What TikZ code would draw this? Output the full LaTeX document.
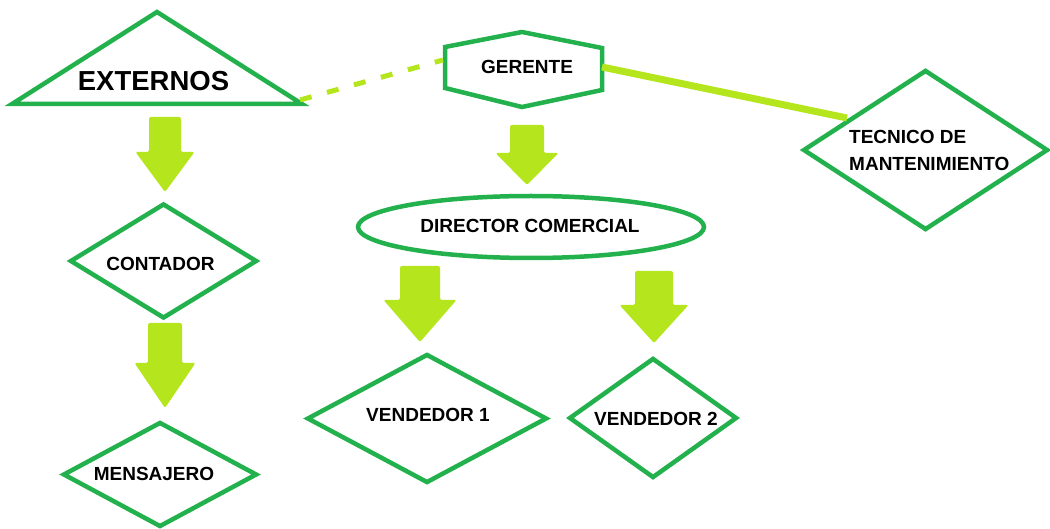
\documentclass[tikz,border=0pt]{standalone}
\usepackage{fontspec}
\setmainfont{Liberation Sans}
\usetikzlibrary{shapes.geometric}
\definecolor{pgreen}{HTML}{22B14C}
\definecolor{plime}{HTML}{B5E61D}
\tikzset{
  outl/.style={draw=pgreen, line width=4.5pt, line join=miter},
  dia/.style={outl, diamond, inner sep=0pt},
  lbl/.style={font=\fontsize{19}{27}\selectfont\bfseries, inner sep=0pt, text=black},
  blk/.style={fill=plime, rounded corners=2pt},
  lnk/.style={draw=plime, line width=7pt},
  dlnk/.style={draw=plime, line width=5pt, dash pattern=on 12pt off 16pt},
}
\newcommand\blockarr[6]{% cx, top, shaft half width, head y, head half width, tip y
  \fill[blk] (#1-#3,#2) -- (#1+#3,#2) -- (#1+#3,#4) -- (#1+#5,#4) -- (#1,#6)
    -- (#1-#5,#4) -- (#1-#3,#4) -- cycle;}
\begin{document}
\begin{tikzpicture}[x=1pt,y=-1pt]
\useasboundingbox (0,0) rectangle (1050,529);
% shapes
\draw[outl] (12,104) -- (157,12) -- (302,104) -- cycle;
\coordinate (extR) at (300,100);
\draw[outl] (445,47) -- (522,32) -- (602,48) -- (602,90) -- (522,107) -- (445,88) -- cycle;
\coordinate (gerL) at (443,60);
\coordinate (gerR) at (602,67);
\node[dia, minimum width=245pt, minimum height=160pt] (tec) at (925.5,150) {};
\coordinate (tecE) at (847,118);
\node[outl, ellipse, inner sep=0pt, minimum width=346pt, minimum height=62pt] (dir) at (531,227) {};
\node[dia, minimum width=187pt, minimum height=115pt] (cont) at (163.5,261) {};
\node[dia, minimum width=194pt, minimum height=105pt] (mens) at (160,474.5) {};
\node[dia, minimum width=240pt, minimum height=129pt] (ven1) at (427,418.5) {};
\node[dia, minimum width=168pt, minimum height=120pt] (ven2) at (653,418) {};
% connectors
\draw[dlnk] (extR) -- (gerL);
\draw[lnk] (gerR) -- (tecE);
% block arrows
\blockarr{165}{117}{16}{152}{29.5}{192}
\blockarr{165}{323}{17}{363}{30.5}{408}
\blockarr{527}{125}{17}{153}{31.5}{185}
\blockarr{420}{266}{20}{300}{36.5}{342}
\blockarr{654}{271}{19}{305}{34.5}{343}
% labels
\node[lbl, font=\fontsize{27.5}{31}\selectfont\bfseries] (tExt) at (153.5,81) {EXTERNOS};
\node[lbl] (tGer) at (527,67) {GERENTE};
\node[lbl, align=left, anchor=west] (tTec) at (849,150.5) {TECNICO DE\\MANTENIMIENTO};
\node[lbl] (tDir) at (530,226) {DIRECTOR COMERCIAL};
\node[lbl] (tCont) at (160.5,264) {CONTADOR};
\node[lbl] (tMens) at (154,474) {MENSAJERO};
\node[lbl] (tVen1) at (428,415) {VENDEDOR 1};
\node[lbl] (tVen2) at (656,419) {VENDEDOR 2};
\end{tikzpicture}
\end{document}
